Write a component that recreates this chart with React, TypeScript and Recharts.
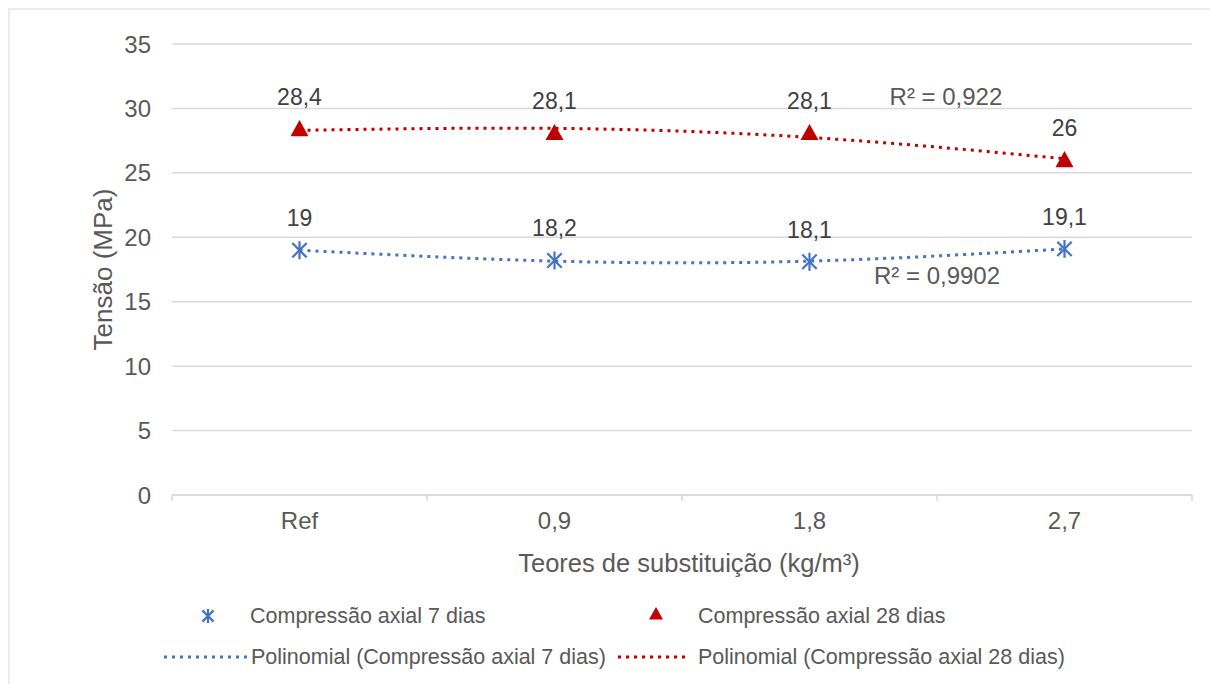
import { LineChart, Line, XAxis, YAxis, CartesianGrid, LabelList, ReferenceDot } from 'recharts'

const categories = ['Ref', '0,9', '1,8', '2,7']
const axial7 = [19, 18.2, 18.1, 19.1]
const axial28 = [28.4, 28.1, 28.1, 26]
// polynomial trendline values as read at each category
const trend7 = [19.0, 18.15, 18.15, 19.1]
const trend28 = [28.3, 28.45, 27.75, 26.1]
const yTicks = [0, 5, 10, 15, 20, 25, 30, 35]
const r2Notes = [
  { text: 'R² = 0,922', x: 3.035, y: 30.9 },
  { text: 'R² = 0,9902', x: 3.0, y: 17.05 },
]

const FONT = '"Liberation Sans", Arial, sans-serif'
const TEXT = '#595959'
const GRID = '#d9d9d9'
const BLUE = '#4472c4'
const RED = '#c00000'

const W = 1200
const H = 674
const PLOT_W = 1020
const BAND = PLOT_W / categories.length

const data = categories.map((c, i) => ({
  x: i + 0.5,
  cat: c,
  a7: axial7[i],
  a28: axial28[i],
  t7: trend7[i],
  t28: trend28[i],
}))

const comma = (v: any) => String(v).replace('.', ',')

function CatTick(props: any) {
  const { x, y, payload } = props
  const i = payload.value
  if (i >= categories.length) return <g />
  return (
    <text x={x + BAND / 2} y={y + 26} textAnchor="middle" fill={TEXT} fontSize={24} fontFamily={FONT}>
      {categories[i]}
    </text>
  )
}

function Asterisk({ cx, cy, size = 9 }: { cx: number; cy: number; size?: number }) {
  const d = size * 0.8
  return (
    <g stroke={BLUE} strokeWidth={2.2} fill="none">
      <line x1={cx} y1={cy - size} x2={cx} y2={cy + size} />
      <line x1={cx - d} y1={cy - d} x2={cx + d} y2={cy + d} />
      <line x1={cx - d} y1={cy + d} x2={cx + d} y2={cy - d} />
    </g>
  )
}

function Triangle({ cx, cy, size = 9 }: { cx: number; cy: number; size?: number }) {
  return <path d={`M${cx},${cy - size} L${cx + size},${cy + size * 0.8} L${cx - size},${cy + size * 0.8} Z`} fill={RED} />
}

const AsteriskDot = (p: any) => (p.cx == null ? <g key={p.key} /> : <Asterisk key={p.key} cx={p.cx} cy={p.cy} />)
const TriangleDot = (p: any) => (p.cx == null ? <g key={p.key} /> : <Triangle key={p.key} cx={p.cx} cy={p.cy} />)

function YTitle(props: any) {
  const vb = props.viewBox
  const cx = vb.x + 93
  const cy = vb.y + vb.height / 2
  return (
    <text x={cx} y={cy} transform={`rotate(-90 ${cx} ${cy})`} textAnchor="middle" dominantBaseline="central"
      fill={TEXT} fontSize={26} fontFamily={FONT}>
      Tensão (MPa)
    </text>
  )
}

function XTitle(props: any) {
  const vb = props.viewBox
  return (
    <text x={vb.x + vb.width / 2 + 7} y={vb.y + 77} textAnchor="middle" fill={TEXT} fontSize={25.5} fontFamily={FONT}>
      Teores de substituição (kg/m³)
    </text>
  )
}

const legendText: any = {
  position: 'absolute',
  fontFamily: FONT,
  fontSize: 21.5,
  lineHeight: '22px',
  color: TEXT,
  whiteSpace: 'nowrap',
}

function DottedSwatch({ color, width }: { color: string; width: number }) {
  return (
    <svg width={width} height={6} style={{ display: 'block' }}>
      <line x1={2} y1={3} x2={width - 2} y2={3} stroke={color} strokeWidth={3} strokeDasharray="3 5" />
    </svg>
  )
}

function Legend() {
  // positions relative to the chart box
  return (
    <>
      <svg width={20} height={20} style={{ position: 'absolute', left: 188, top: 596 }}>
        <Asterisk cx={10} cy={10} size={7} />
      </svg>
      <div style={{ ...legendText, left: 240, top: 595 }}>Compressão axial 7 dias</div>
      <svg width={20} height={20} style={{ position: 'absolute', left: 636, top: 594 }}>
        <Triangle cx={10} cy={10} size={7} />
      </svg>
      <div style={{ ...legendText, left: 688, top: 595 }}>Compressão axial 28 dias</div>
      <div style={{ position: 'absolute', left: 152, top: 644 }}>
        <DottedSwatch color={BLUE} width={88} />
      </div>
      <div style={{ ...legendText, left: 241, top: 636 }}>Polinomial (Compressão axial 7 dias)</div>
      <div style={{ position: 'absolute', left: 606, top: 644 }}>
        <DottedSwatch color={RED} width={72} />
      </div>
      <div style={{ ...legendText, left: 688, top: 636 }}>Polinomial (Compressão axial 28 dias)</div>
    </>
  )
}

export default function App() {
  return (
    <div
      style={{
        position: 'absolute',
        left: 8,
        top: 8,
        width: W,
        height: H,
        borderTop: '2px solid #ececec',
        borderLeft: '2px solid #ececec',
        background: '#fff',
        overflow: 'hidden',
      }}
    >
      <LineChart width={W} height={H} data={data} margin={{ top: 34, right: 18, left: 0, bottom: 89 }}>
        <CartesianGrid vertical={false} stroke={GRID} strokeWidth={1.5} />
        <XAxis
          dataKey="x"
          type="number"
          domain={[0, 4]}
          ticks={[0, 1, 2, 3, 4]}
          allowDataOverflow
          height={100}
          axisLine={{ stroke: GRID, strokeWidth: 1.5 }}
          tickLine={{ stroke: GRID, strokeWidth: 1.5 }}
          tickSize={6}
          tick={<CatTick />}
          label={<XTitle />}
        />
        <YAxis
          domain={[0, 35]}
          ticks={yTicks}
          width={162}
          axisLine={false}
          tickLine={false}
          tickSize={0}
          tickMargin={21}
          tick={{ fill: TEXT, fontSize: 24, fontFamily: FONT }}
          label={<YTitle />}
        />
        <Line
          dataKey="t7"
          type="natural"
          stroke={BLUE}
          strokeWidth={3}
          strokeDasharray="3 5"
          dot={false}
          activeDot={false}
          isAnimationActive={false}
        />
        <Line
          dataKey="t28"
          type="natural"
          stroke={RED}
          strokeWidth={3}
          strokeDasharray="3 5"
          dot={false}
          activeDot={false}
          isAnimationActive={false}
        />
        <Line dataKey="a7" stroke="none" dot={AsteriskDot} activeDot={false} isAnimationActive={false}>
          <LabelList dataKey="a7" position="top" offset={24} formatter={comma} fill="#404040" fontSize={23} fontFamily={FONT} />
        </Line>
        <Line dataKey="a28" stroke="none" dot={TriangleDot} activeDot={false} isAnimationActive={false}>
          <LabelList dataKey="a28" position="top" offset={24} formatter={comma} fill="#404040" fontSize={23} fontFamily={FONT} />
        </Line>
        {r2Notes.map((n) => (
          <ReferenceDot
            key={n.text}
            x={n.x}
            y={n.y}
            r={0}
            fill="none"
            stroke="none"
            label={{ value: n.text, position: 'center', fill: TEXT, fontSize: 24, fontFamily: FONT }}
          />
        ))}
      </LineChart>
      <Legend />
    </div>
  )
}
